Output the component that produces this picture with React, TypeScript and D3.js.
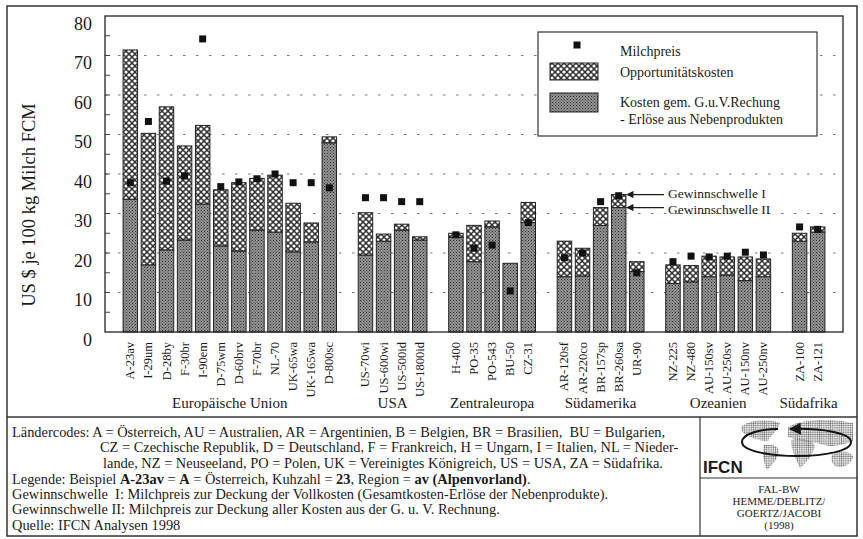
import React from 'react';
import * as d3 from 'd3';

// Betriebe (Kürzel), gruppiert nach Region
const categories = [
    'A-23av', 'I-29um', 'D-28by', 'F-30br', 'I-90em', 'D-75wm', 'D-60brv', 'F-70br', 'NL-70', 'UK-65wa', 'UK-165wa', 'D-800sc',
    'US-70wi', 'US-600wi', 'US-500id', 'US-1800id',
    'H-400', 'PO-35', 'PO-543', 'BU-50', 'CZ-31',
    'AR-120sf', 'AR-220co', 'BR-157sp', 'BR-260sa', 'UR-90',
    'NZ-225', 'NZ-480', 'AU-150sv', 'AU-250sv', 'AU-150nv', 'AU-250nv',
    'ZA-100', 'ZA-121'
];
const groupNames = ['Europäische Union', 'USA', 'Zentraleuropa', 'Südamerika', 'Ozeanien', 'Südafrika'];
const groupSizes = [12, 4, 5, 5, 6, 2];

// Kosten gem. G.u.V.-Rechnung - Erlöse aus Nebenprodukten (US$ je 100 kg)
const kosten = [
    33.6, 17.0, 20.8, 23.3, 32.4, 21.8, 20.5, 25.8, 25.3, 20.3, 22.8, 47.9,
    19.5, 23.0, 25.8, 23.3,
    24.0, 17.8, 26.6, 17.4, 27.7,
    14.0, 14.2, 27.0, 31.5, 15.3,
    12.3, 12.7, 14.0, 14.4, 13.0, 14.0,
    23.0, 25.3
];
// Opportunitätskosten
const opportunitaet = [
    37.8, 33.3, 36.2, 23.8, 19.9, 14.2, 17.3, 13.1, 14.4, 12.3, 4.8, 1.5,
    10.7, 1.8, 1.5, 0.8,
    1.0, 9.2, 1.5, 0, 5.1,
    9.0, 7.0, 4.5, 3.3, 2.5,
    4.7, 4.1, 5.2, 4.6, 6.0, 4.5,
    2.0, 1.3
];
// Milchpreis
const milchpreis = [
    37.8, 53.3, 38.2, 39.5, 74.2, 36.8, 38.0, 38.8, 40.0, 37.8, 37.8, 36.5,
    34.0, 34.0, 33.0, 33.0,
    24.6, 21.2, 22.0, 10.4, 27.7,
    18.8, 20.0, 33.0, 34.5, 15.0,
    17.8, 19.2, 19.0, 19.2, 20.2, 19.5,
    26.6, 26.0
];
const yTicks = [0, 10, 20, 30, 40, 50, 60, 70, 80];
const minorTicks = d3.range(5, 80, 5);

const notes = [
    'Ländercodes: A = Österreich, AU = Australien, AR = Argentinien, B = Belgien, BR = Brasilien,\u00a0 BU = Bulgarien,',
    'CZ = Czechische Republik, D = Deutschland, F = Frankreich, H = Ungarn, I = Italien, NL = Nieder-',
    'lande, NZ = Neuseeland, PO = Polen, UK = Vereinigtes Königreich, US = USA, ZA = Südafrika.'
];
const authors = ['FAL-BW', 'HEMME/DEBLITZ/', 'GOERTZ/JACOBI', '(1998)'];

const serif = '"Liberation Serif", "Times New Roman", serif';
const ink = '#1a1a1a';

export default function App() {
    // slot list: categories with one empty slot between the regions
    const slots: string[] = [];
    const groupSlots: string[][] = [];
    let k = 0;
    groupSizes.forEach((n, gi) => {
        if (gi > 0) slots.push(`_gap${gi}`);
        const members = categories.slice(k, k + n);
        members.forEach((c) => slots.push(c));
        groupSlots.push(members);
        k += n;
    });

    const x = d3.scaleBand<string>()
        .domain(slots)
        .range([105, 843])
        .paddingInner(0.2)
        .paddingOuter(1);

    const y = d3.scaleLinear()
        .domain([0, 80])
        .range([332, 16]);

    const bw = x.bandwidth();
    const data = categories.map((c, i) => ({
        name: c,
        kosten: kosten[i],
        total: kosten[i] + opportunitaet[i],
        preis: milchpreis[i]
    }));

    const br = data.find((d) => d.name === 'BR-260sa')!;
    const brRight = (x(br.name) ?? 0) + bw + 1;

    return (
        <svg width={863} height={539} style={{ position: 'absolute', left: 0, top: 0, background: '#fff' }}
            fontFamily={serif} fill={ink}>
            <defs>
                <pattern id="stipple" width="3" height="3" patternUnits="userSpaceOnUse">
                    <rect width="3" height="3" fill="#8e8e8e" />
                    <rect width="1" height="1" fill="#3c3c3c" />
                    <rect x="1.5" y="1.5" width="1" height="1" fill="#5a5a5a" />
                </pattern>
                <pattern id="cross" width="6" height="6" patternUnits="userSpaceOnUse">
                    <rect width="6" height="6" fill="#363636" />
                    <circle cx="0" cy="0" r="1.6" fill="#fff" />
                    <circle cx="6" cy="0" r="1.6" fill="#fff" />
                    <circle cx="0" cy="6" r="1.6" fill="#fff" />
                    <circle cx="6" cy="6" r="1.6" fill="#fff" />
                    <circle cx="3" cy="3" r="1.6" fill="#fff" />
                </pattern>
                <pattern id="dots" width="2.2" height="2.2" patternUnits="userSpaceOnUse">
                    <circle cx="1.1" cy="1.1" r="0.85" fill="#6e6e6e" />
                </pattern>
                <marker id="arrow" viewBox="0 0 10 10" refX="9" refY="5" markerWidth="7" markerHeight="6" orient="auto">
                    <path d="M0,0 L10,5 L0,10 z" fill={ink} />
                </marker>
            </defs>

            {/* outer frame */}
            <rect x={7} y={6} width={850} height={530} fill="none" stroke="#333" strokeWidth={1.5} />
            <line x1={7} x2={857} y1={417} y2={417} stroke="#333" strokeWidth={1.5} />
            <line x1={700} x2={700} y1={417} y2={536} stroke="#333" strokeWidth={1.2} />
            <line x1={700} x2={857} y1={478} y2={478} stroke="#333" strokeWidth={1.2} />

            {/* grid */}
            {yTicks.filter((t) => t > 0 && t < 80).map((t) => (
                <line key={`g${t}`} x1={105} x2={843} y1={y(t)} y2={y(t)}
                    stroke="#777" strokeWidth={1} strokeDasharray="2.5,10.5" />
            ))}
            {minorTicks.map((t) => (
                <line key={`t${t}`} x1={105} x2={110} y1={y(t)} y2={y(t)} stroke="#444" strokeWidth={1} />
            ))}

            {/* legend */}
            <rect x={538} y={32} width={279} height={104} fill="#fff" stroke="#333" strokeWidth={1.2} />
            <rect x={573.5} y={41.5} width={7} height={7} fill="#111" />
            <rect x={550} y={63} width={48} height={17} fill="url(#cross)" stroke="#222" />
            <rect x={550} y={93} width={48} height={19} fill="url(#stipple)" stroke="#222" />
            <g fontSize={14}>
                <text x={620} y={56}>Milchpreis</text>
                <text x={620} y={77}>Opportunitätskosten</text>
                <text x={620} y={107}>Kosten gem. G.u.V.Rechung</text>
                <text x={620} y={124}>- Erlöse aus Nebenprodukten</text>
            </g>

            {/* bars */}
            {data.map((d) => {
                const x0 = x(d.name) ?? 0;
                return (
                    <g key={d.name}>
                        <rect x={x0} y={y(d.kosten)} width={bw} height={y(0) - y(d.kosten)}
                            fill="url(#stipple)" stroke="#222" strokeWidth={1} />
                        {d.total > d.kosten && (
                            <rect x={x0} y={y(d.total)} width={bw} height={y(d.kosten) - y(d.total)}
                                fill="url(#cross)" stroke="#222" strokeWidth={1} />
                        )}
                        <rect x={x0 + bw / 2 - 3.5} y={y(d.preis) - 3.5} width={7} height={7} fill="#111" />
                    </g>
                );
            })}

            {/* plot frame */}
            <rect x={105} y={16} width={738} height={316} fill="none" stroke="#222" strokeWidth={1.3} />

            {/* y axis */}
            <g fontSize={18} textAnchor="end">
                {yTicks.map((t) => (
                    <text key={t} x={92} y={y(t) + 13.5}>{t}</text>
                ))}
            </g>
            <text transform="translate(35,205) rotate(-90)" textAnchor="middle" fontSize={18.5}>
                US $ je 100 kg Milch FCM
            </text>

            {/* category labels */}
            <g fontSize={12.5} textAnchor="end">
                {data.map((d) => {
                    const cx = (x(d.name) ?? 0) + bw / 2 + 4;
                    return (
                        <text key={d.name} transform={`translate(${cx},342) rotate(-90)`}>{d.name}</text>
                    );
                })}
            </g>

            {/* group labels */}
            <g fontSize={15} textAnchor="middle">
                {groupSlots.map((members, i) => {
                    const a = x(members[0]) ?? 0;
                    const b = (x(members[members.length - 1]) ?? 0) + bw;
                    return <text key={groupNames[i]} x={(a + b) / 2} y={408}>{groupNames[i]}</text>;
                })}
            </g>

            {/* Gewinnschwellen */}
            <line x1={664} x2={brRight} y1={y(br.total)} y2={y(br.total)} stroke={ink} strokeWidth={1.2} markerEnd="url(#arrow)" />
            <line x1={664} x2={brRight} y1={y(br.kosten)} y2={y(br.kosten)} stroke={ink} strokeWidth={1.2} markerEnd="url(#arrow)" />
            <g fontSize={13.5}>
                <text x={668} y={y(br.total) + 3}>Gewinnschwelle I</text>
                <text x={668} y={y(br.kosten) + 6}>Gewinnschwelle II</text>
            </g>

            {/* notes */}
            <g fontSize={14.4}>
                <text x={12} y={437}>{notes[0]}</text>
                <text x={100} y={452}>{notes[1]}</text>
                <text x={103} y={468}>{notes[2]}</text>
                <text x={12} y={484}>
                    Legende: Beispiel <tspan fontWeight="bold">A-23av</tspan> = <tspan fontWeight="bold">A</tspan> = Österreich,
                    Kuhzahl = <tspan fontWeight="bold">23</tspan>, Region = <tspan fontWeight="bold">av (Alpenvorland)</tspan>.
                </text>
                <text x={12} y={499}>{'Gewinnschwelle\u00a0 I: Milchpreis zur Deckung der Vollkosten (Gesamtkosten-Erlöse der Nebenprodukte).'}</text>
                <text x={12} y={514}>Gewinnschwelle II: Milchpreis zur Deckung aller Kosten aus der G. u. V. Rechnung.</text>
                <text x={12} y={530}>Quelle: IFCN Analysen 1998</text>
            </g>

            {/* IFCN logo */}
            <g fill="url(#dots)">
                <path d="M742,426 C750,420 768,419 780,423 C778,430 772,434 768,441 C760,442 752,437 746,435 C742,432 740,429 742,426 Z" />
                <path d="M764,445 C771,443 779,446 779,452 C777,460 771,466 767,470 C763,462 762,452 764,445 Z" />
                <path d="M788,427 C800,419 832,418 853,423 L853,441 C842,446 828,448 818,443 C808,442 798,441 788,437 Z" />
                <path d="M791,440 C800,437 813,439 815,446 C813,455 806,463 800,468 C796,459 791,450 791,440 Z" />
                <path d="M832,455 C839,450 851,451 853,457 C851,465 842,469 835,466 C831,463 831,459 832,455 Z" />
            </g>
            <path d="M778,429 C760,429 742,434 742,442 C742,451 770,456 797,456 C825,456 851,451 851,442 C851,433 822,428 790,429"
                fill="none" stroke="#111" strokeWidth={2} markerEnd="url(#arrow)" />
            <text x={703} y={473} fontFamily='"Liberation Sans", Arial, sans-serif' fontWeight="bold" fontSize={17}>IFCN</text>
            <g fontSize={11} textAnchor="middle">
                {authors.map((a, i) => (
                    <text key={a} x={779} y={493 + i * 12}>{a}</text>
                ))}
            </g>
        </svg>
    );
}
